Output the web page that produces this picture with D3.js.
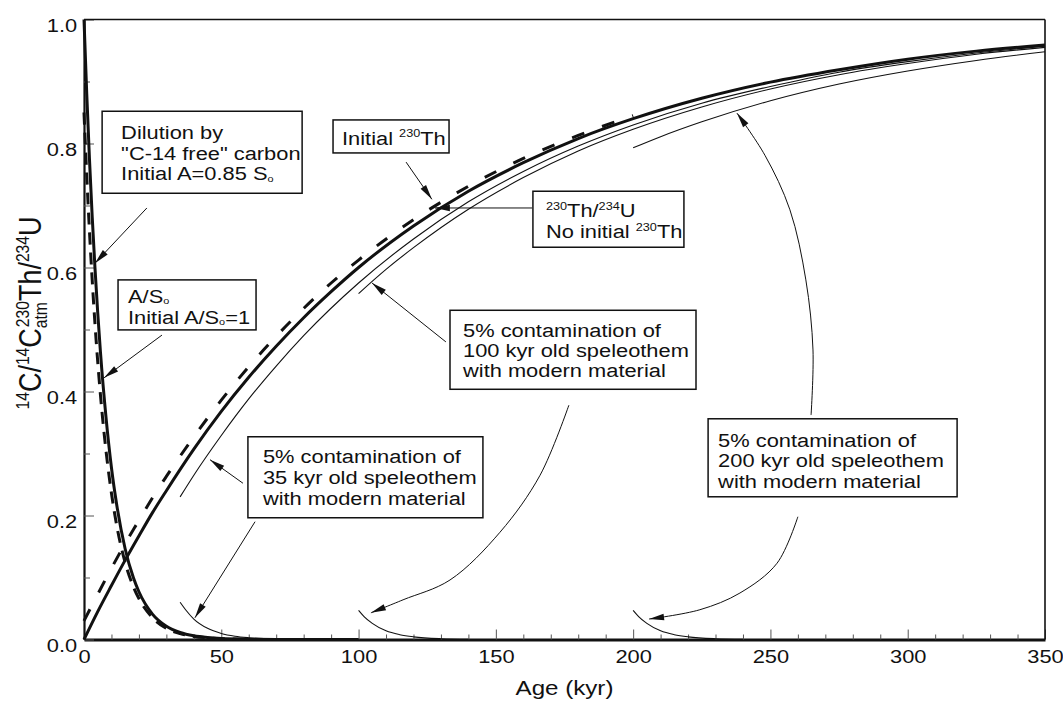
<!DOCTYPE html>
<html>
<head>
<meta charset="utf-8">
<script src="https://cdn.jsdelivr.net/npm/d3@7"></script>
<style>
  body { margin: 0; background: #fff; }
  text { font-family: "Liberation Sans", Arial, Helvetica, sans-serif; fill: #111; }
</style>
</head>
<body>
<svg id="chart" width="1063" height="701"></svg>
<script>
// ---------- data (age in kyr, ratio) ----------
// 14C activity, initial A/So = 1
const c14Ages      = [0, 1, 2, 3, 4, 5, 6, 8, 10, 12, 15, 18, 20, 25, 30, 35, 40, 45, 50, 60, 70, 80, 100];
const c14Initial1  = [1.000, 0.880, 0.774, 0.681, 0.599, 0.527, 0.463, 0.359, 0.277, 0.215, 0.146, 0.0995, 0.077, 0.0406, 0.0214, 0.0113, 0.0059, 0.0031, 0.0016, 0.0005, 0.0001, 0, 0];
// 14C activity, diluted by dead carbon (initial A = 0.85 So)
const c14DilAges   = [0, 1, 2, 3, 4, 5, 6, 8, 10, 12, 15, 18, 20, 25, 30, 35, 40, 45, 50, 60];
const c14Diluted   = [0.850, 0.748, 0.658, 0.579, 0.509, 0.448, 0.394, 0.305, 0.236, 0.182, 0.124, 0.085, 0.066, 0.035, 0.018, 0.0096, 0.005, 0.0027, 0.0014, 0.0004];

// 230Th/234U ingrowth
const thAges       = [0, 5, 10, 15, 20, 25, 30, 40, 50, 60, 70, 80, 90, 100, 120, 140, 160, 180, 200, 225, 250, 275, 300, 325, 350];
const thNoInitial  = [0, 0.045, 0.087, 0.128, 0.167, 0.205, 0.240, 0.307, 0.368, 0.423, 0.473, 0.519, 0.561, 0.600, 0.667, 0.723, 0.769, 0.808, 0.840, 0.873, 0.899, 0.919, 0.936, 0.949, 0.959];
const thInitAges   = [0, 5, 10, 15, 20, 25, 30, 40, 50, 60, 70, 80, 90, 100, 120, 140, 160, 180, 200];
const thInitial    = [0.030, 0.073, 0.115, 0.155, 0.192, 0.229, 0.263, 0.327, 0.386, 0.440, 0.489, 0.534, 0.575, 0.612, 0.677, 0.731, 0.776, 0.813, 0.845];

// 5% modern contamination: 14C
const c14C35Ages   = [35, 37, 40, 45, 50, 55, 60, 70, 80];
const c14C35       = [0.060, 0.048, 0.033, 0.018, 0.0098, 0.0053, 0.0029, 0.0008, 0.0002];
const c14C100Ages  = [100, 102, 105, 110, 115, 120, 130, 140];
const c14C100      = [0.047, 0.037, 0.026, 0.014, 0.0078, 0.0043, 0.0013, 0.0004];
const c14C200Ages  = [200, 202, 205, 210, 215, 220, 230, 240];
const c14C200      = [0.047, 0.037, 0.026, 0.014, 0.0078, 0.0043, 0.0013, 0.0004];

// 5% modern contamination: 230Th/234U
const thC35Ages    = [35, 40, 50, 60, 70, 80, 100, 120, 140, 160, 180, 200, 225, 250, 275, 300, 325, 350];
const thC35        = [0.230, 0.265, 0.329, 0.388, 0.441, 0.490, 0.575, 0.646, 0.706, 0.755, 0.796, 0.830, 0.865, 0.892, 0.915, 0.932, 0.946, 0.957];
const thC100Ages   = [100, 110, 120, 140, 160, 180, 200, 225, 250, 275, 300, 325, 350];
const thC100       = [0.558, 0.597, 0.632, 0.694, 0.745, 0.788, 0.823, 0.859, 0.888, 0.911, 0.929, 0.944, 0.955];
const thC200Ages   = [200, 210, 225, 250, 275, 300, 325, 350];
const thC200       = [0.793, 0.811, 0.835, 0.869, 0.896, 0.917, 0.934, 0.948];

// axis ticks
const xMajorTicks  = [0, 50, 100, 150, 200, 250, 300, 350];
const xTickLabels  = ["0", "50", "100", "150", "200", "250", "300", "350"];
const xMinorTicks  = [10, 20, 30, 40, 60, 70, 80, 90, 110, 120, 130, 140, 160, 170, 180, 190, 210, 220, 230, 240, 260, 270, 280, 290, 310, 320, 330, 340];
const yMajorTicks  = [0, 0.2, 0.4, 0.6, 0.8, 1.0];
const yTickLabels  = ["0.0", "0.2", "0.4", "0.6", "0.8", "1.0"];
const yMinorTicks  = [0.1, 0.3, 0.5, 0.7, 0.9];

// ---------- layout ----------
const plot = { left: 84, right: 1045, top: 19.5, bottom: 639.5 };
const SX = 1.15;          // lettering is set slightly wide
const FS = 19;            // base font size

const x = d3.scaleLinear().domain([0, 350]).range([plot.left, plot.right]);
const y = d3.scaleLinear().domain([0, 1]).range([plot.bottom, plot.top]);

const svg = d3.select("#chart");
const defs = svg.append("defs");
defs.append("marker")
  .attr("id", "head")
  .attr("viewBox", "-16 -4 17 8")
  .attr("refX", 0).attr("refY", 0)
  .attr("markerWidth", 17).attr("markerHeight", 8)
  .attr("markerUnits", "userSpaceOnUse")
  .attr("orient", "auto")
  .append("path").attr("d", "M0,0L-15,-3.3L-15,3.3Z").attr("fill", "#111");

// text with super/subscripts; parts: "str" | [str, "sup"|"sub"|"low"|"subsup"]
function richText(parent, px, py, parts, size, anchor, rot) {
  const t = parent.append("text")
    .attr("transform", `translate(${px},${py}) scale(${SX},1)` + (rot ? ` rotate(${rot})` : ""))
    .attr("font-size", size)
    .attr("text-anchor", anchor || "start");
  let shift = 0, prev = null;
  parts.forEach(p => {
    const [s, k] = typeof p === "string" ? [p, "n"] : p;
    const target = (k === "sup" || k === "subsup") ? -0.40 * size
                 : k === "sub" ? 0.18 * size
                 : k === "low" ? 0.08 * size : 0;
    const ts = t.append("tspan").text(s).attr("dy", target - shift);
    if (k !== "n") ts.attr("font-size", size * (k === "low" ? 0.5 : 0.58));
    if (k === "subsup" && prev) ts.attr("dx", -prev.node().getComputedTextLength() + 1);
    shift = target;
    prev = ts;
  });
  return t;
}

// ---------- axes ----------
const gx = svg.append("g").attr("transform", `translate(0,${plot.bottom})`);
gx.call(d3.axisBottom(x).tickValues(xMajorTicks).tickSize(-10).tickSizeOuter(0)
  .tickFormat((d, i) => xTickLabels[i]));
gx.select(".domain").attr("stroke", "#111").attr("stroke-width", 3);
gx.selectAll(".tick line").attr("stroke", "#555").attr("stroke-width", 1);
gx.selectAll(".tick text")
  .attr("font-size", FS).attr("font-family", null).attr("fill", "#111")
  .attr("y", 23.5).attr("dy", null)
  .attr("transform", `scale(${SX},1)`);

const gxm = svg.append("g").attr("transform", `translate(0,${plot.bottom})`);
gxm.call(d3.axisBottom(x).tickValues(xMinorTicks).tickSize(-5).tickSizeOuter(0).tickFormat(""));
gxm.select(".domain").remove();
gxm.selectAll(".tick line").attr("stroke", "#555").attr("stroke-width", 1);

const gy = svg.append("g").attr("transform", `translate(${plot.left},0)`);
gy.call(d3.axisLeft(y).tickValues(yMajorTicks).tickSize(-10).tickSizeOuter(0).tickPadding(6)
  .tickFormat((d, i) => yTickLabels[i]));
gy.select(".domain").attr("stroke", "#111").attr("stroke-width", 2.2);
gy.selectAll(".tick line").attr("stroke", "#555").attr("stroke-width", 1);
gy.selectAll(".tick text")
  .attr("font-size", FS).attr("font-family", null).attr("fill", "#111")
  .attr("y", 12).attr("dy", null)
  .attr("transform", `scale(${SX},1)`);

const gym = svg.append("g").attr("transform", `translate(${plot.left},0)`);
gym.call(d3.axisLeft(y).tickValues(yMinorTicks).tickSize(-6).tickSizeOuter(0).tickFormat(""));
gym.select(".domain").remove();
gym.selectAll(".tick line").attr("stroke", "#555").attr("stroke-width", 1);

// top and right frame
svg.append("line").attr("x1", x(0)).attr("x2", x(350)).attr("y1", y(1)).attr("y2", y(1))
  .attr("stroke", "#111").attr("stroke-width", 1.6);
svg.append("line").attr("x1", x(350)).attr("x2", x(350)).attr("y1", y(1)).attr("y2", y(0))
  .attr("stroke", "#111").attr("stroke-width", 1.6);

// axis titles
richText(svg, (plot.left + plot.right) / 2, 695, ["Age (kyr)"], 21, "middle");
richText(svg, 41, 313, [["14", "sup"], "C/", ["14", "sup"], "C", ["atm", "sub"], ["230", "subsup"], "Th/", ["234", "sup"], "U"], 27, "middle", -90);

// ---------- curves ----------
const line = d3.line().x(d => x(d[0])).y(d => y(d[1])).curve(d3.curveMonotoneX);
const zip = (a, b) => a.map((v, i) => [v, b[i]]);

const series = [
  { ages: thC35Ages,   vals: thC35,       w: 1.1 },
  { ages: thC100Ages,  vals: thC100,      w: 1.1 },
  { ages: thC200Ages,  vals: thC200,      w: 1.1 },
  { ages: c14C35Ages,  vals: c14C35,      w: 1.1 },
  { ages: c14C100Ages, vals: c14C100,     w: 1.1 },
  { ages: c14C200Ages, vals: c14C200,     w: 1.1 },
  { ages: thAges,      vals: thNoInitial, w: 3 },
  { ages: thInitAges,  vals: thInitial,   w: 3, dash: "13,19" },
  { ages: c14Ages,     vals: c14Initial1, w: 3 },
  { ages: c14DilAges,  vals: c14Diluted,  w: 3, dash: "12,8" }
];
svg.append("g").selectAll("path").data(series).join("path")
  .attr("d", s => line(zip(s.ages, s.vals)))
  .attr("fill", "none").attr("stroke", "#111")
  .attr("stroke-width", s => s.w)
  .attr("stroke-dasharray", s => s.dash || null);

// ---------- annotations ----------
const notes = [
  { at: [6.6, 0.852],   w: 200, h: 82, pad: 19, first: 28, gap: 20.5,
    lines: [["Dilution by"], ['"C-14 free" carbon'], ["Initial A=0.85 S", ["o", "low"]]] },
  { at: [12.4, 0.580],  w: 138, h: 50, pad: 10, first: 23, gap: 21,
    lines: [["A/S", ["o", "low"]], ["Initial A/S", ["o", "low"], "=1"]] },
  { at: [90.7, 0.838],  w: 116, h: 33, pad: 9, first: 25, gap: 20,
    lines: [["Initial ", ["230", "sup"], "Th"]] },
  { at: [163.5, 0.723], w: 151, h: 56, pad: 13, first: 26, gap: 21,
    lines: [[["230", "sup"], "Th/", ["234", "sup"], "U"], ["No initial ", ["230", "sup"], "Th"]] },
  { at: [133.3, 0.531], w: 246, h: 79, pad: 13, first: 27, gap: 20,
    lines: [["5% contamination of"], ["100 kyr old speleothem"], ["with modern material"]] },
  { at: [59.7, 0.327],  w: 235, h: 81, pad: 15, first: 26, gap: 21,
    lines: [["5% contamination of"], ["35 kyr old speleothem"], ["with modern material"]] },
  { at: [227.3, 0.356], w: 249, h: 78, pad: 10, first: 28, gap: 20.5,
    lines: [["5% contamination of"], ["200 kyr old speleothem"], ["with modern material"]] }
];

const arrows = [
  [[22.9, 0.696], [4.0, 0.607]],
  [[28.4, 0.491], [7.3, 0.422]],
  [[117.3, 0.770], [126.7, 0.710]],
  [[163.2, 0.696], [127.8, 0.696]],
  [[131.8, 0.480], [104.9, 0.575]],
  [[57.9, 0.252], [45.9, 0.290]],
  [[62.3, 0.190], [40.4, 0.035]],
  [[176.6, 0.378], [166.1, 0.265], [151.5, 0.173], [133.3, 0.096], [116.2, 0.064], [104.5, 0.043]],
  [[264.8, 0.362], [265.5, 0.467], [262.9, 0.580], [257.1, 0.693], [248.0, 0.781], [237.8, 0.849]],
  [[260.0, 0.198], [252.4, 0.123], [238.9, 0.075], [224.3, 0.048], [205.8, 0.033]]
];

const arrowLine = d3.line().x(d => x(d[0])).y(d => y(d[1])).curve(d3.curveCatmullRom.alpha(0.5));
svg.append("g").selectAll("path").data(arrows).join("path")
  .attr("d", arrowLine)
  .attr("fill", "none").attr("stroke", "#111").attr("stroke-width", 1)
  .attr("marker-end", "url(#head)");

const gn = svg.append("g");
notes.forEach(n => {
  const bx = x(n.at[0]), by = y(n.at[1]);
  gn.append("rect").attr("x", bx).attr("y", by).attr("width", n.w).attr("height", n.h)
    .attr("fill", "#fff").attr("stroke", "#111").attr("stroke-width", 1.5);
  n.lines.forEach((ln, i) => richText(gn, bx + n.pad, by + n.first + i * n.gap, ln, FS, "start"));
});
</script>
</body>
</html>
